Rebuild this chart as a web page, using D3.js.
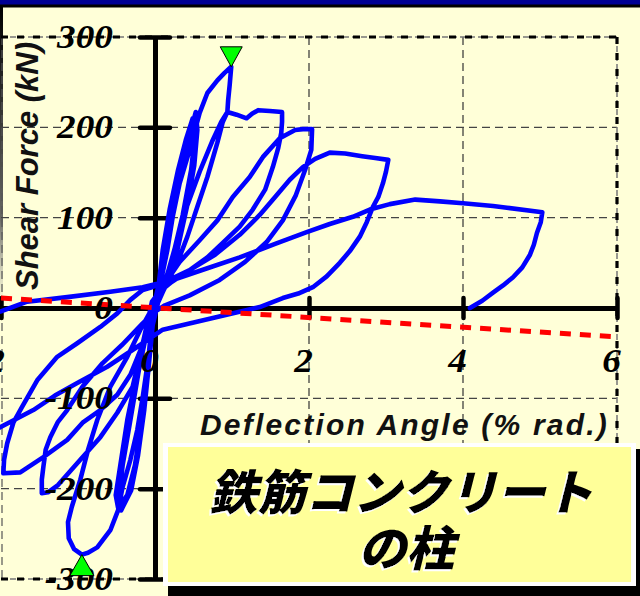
<!DOCTYPE html>
<html>
<head>
<meta charset="utf-8">
<script src="https://cdn.jsdelivr.net/npm/d3@7"></script>
<style>
  html, body { margin: 0; padding: 0; background: #ffffd8; }
  svg { display: block; }
</style>
</head>
<body>
<svg id="chart" width="640" height="596"></svg>
<script>
// Axis ticks and labels
const angleTicks = [-2, 0, 2, 4, 6];
const angleTickLabels = ["-2", "0", "2", "4", "6"];
const shearTicks = [-300, -200, -100, 0, 100, 200, 300];
const shearTickLabels = ["-300", "-200", "-100", "0", "100", "200", "300"];

// Hysteresis record, one array per loading cycle: [drift angle (% rad.), shear force (kN)]
const cycle05a = [[0,0],[0.04,20],[0.10,64],[0.19,109],[0.30,153],[0.40,186],[0.49,210],[0.52,192],[0.47,153],[0.36,103],[0.22,53],[0.09,20],[0.01,2],[-0.05,-24],[-0.10,-69],[-0.17,-124],[-0.26,-174],[-0.36,-207],[-0.48,-221],[-0.51,-207],[-0.45,-174],[-0.36,-124],[-0.23,-69],[-0.12,-24],[-0.03,-4]];
const cycle05b = [[0.06,31],[0.16,75],[0.26,120],[0.36,158],[0.45,192],[0.53,217],[0.55,197],[0.51,158],[0.42,114],[0.29,64],[0.14,25],[0.04,6],[-0.03,-19],[-0.08,-63],[-0.14,-113],[-0.22,-163],[-0.31,-202],[-0.44,-224],[-0.47,-210],[-0.42,-174],[-0.32,-124],[-0.21,-69],[-0.10,-24],[-0.01,-2]];
const cycle10 = [[0.01,3],[0.08,31],[0.16,64],[0.23,101],[0.32,138],[0.45,175],[0.58,216],[0.68,238],[0.81,252],[0.90,260],[0.99,267],[0.97,247],[0.95,230],[0.94,217],[0.88,206],[0.81,183],[0.68,145],[0.55,112],[0.42,79],[0.29,50],[0.16,28],[0.05,9],[-0.03,-13],[-0.09,-58],[-0.16,-99],[-0.23,-135],[-0.32,-168],[-0.42,-198],[-0.48,-224],[-0.58,-246],[-0.75,-265],[-0.87,-271],[-0.95,-273],[-1.05,-267],[-1.12,-255],[-1.13,-237],[-1.08,-220],[-0.97,-190],[-0.87,-157],[-0.75,-124],[-0.58,-87],[-0.36,-54],[-0.19,-24],[-0.06,-4]];
const cycle16 = [[0.04,9],[0.14,31],[0.25,64],[0.40,109],[0.58,151],[0.74,184],[0.86,206],[0.94,217],[1.06,214],[1.19,210],[1.26,215],[1.34,219],[1.49,218],[1.65,217],[1.65,206],[1.64,194],[1.60,177],[1.53,156],[1.43,131],[1.27,109],[1.10,90],[0.88,72],[0.68,56],[0.45,42],[0.22,29],[0.06,18],[-0.04,7],[-0.09,-13],[-0.18,-47],[-0.29,-87],[-0.49,-116],[-0.71,-143],[-0.97,-168],[-1.26,-196],[-1.39,-204],[-1.47,-205],[-1.47,-190],[-1.45,-176],[-1.42,-157],[-1.36,-143],[-1.26,-126],[-1.14,-113],[-0.94,-87],[-0.68,-61],[-0.43,-41],[-0.16,-17],[-0.04,-7]];
const cycle20 = [[0.04,11],[0.16,31],[0.32,51],[0.58,75],[0.81,97],[1.01,123],[1.23,145],[1.40,167],[1.62,188],[1.82,197],[1.92,198],[2.04,198],[2.03,175],[1.95,153],[1.83,125],[1.66,97],[1.45,73],[1.17,51],[0.84,31],[0.45,14],[0.13,3],[0,-4],[-0.09,-19],[-0.19,-47],[-0.32,-74],[-0.49,-96],[-0.71,-113],[-0.94,-127],[-1.14,-146],[-1.45,-165],[-1.75,-182],[-1.97,-183],[-1.96,-168],[-1.92,-150],[-1.84,-127],[-1.73,-110],[-1.53,-80],[-1.27,-54],[-1.01,-39],[-0.71,-21],[-0.49,-6],[-0.32,9],[-0.16,20],[-0.04,23]];
const cycle30 = [[0.13,29],[0.45,42],[0.78,59],[1.10,81],[1.36,103],[1.56,123],[1.75,142],[1.92,156],[2.08,165],[2.27,172],[2.47,171],[2.69,168],[2.86,166],[3.03,164],[3.00,151],[2.96,138],[2.90,123],[2.83,112],[2.75,95],[2.66,79],[2.53,63],[2.40,50],[2.23,35],[2.05,23],[1.86,16],[1.66,11],[1.36,1],[0.71,-12],[0.10,-24],[-0.16,-39],[-0.39,-52],[-0.62,-65],[-1.01,-83],[-1.30,-97],[-1.58,-113],[-2.01,-132],[-2.34,-146]];
const cycle50 = [[-2.34,-11],[-2.01,-4],[-1.66,7],[-1.14,12],[-0.58,18],[-0.16,23],[0.23,31],[0.68,44],[1.10,56],[1.56,71],[1.97,84],[2.27,93],[2.57,101],[2.79,109],[3.05,115],[3.38,120],[3.70,118],[4.00,116],[4.39,113],[4.57,111],[5.03,106],[5.01,95],[4.96,83],[4.92,70],[4.87,59],[4.77,45],[4.65,34],[4.52,25],[4.39,17],[4.25,8],[4.09,0]];

// Maximum strength in each direction
const peakPositive = [0.99, 267];
const peakNegative = [-0.95, -273];

// P-delta effect line
const pDeltaLine = [[-2, 11], [6, -32]];

const svg = d3.select("#chart");
const W = 640, H = 596;

const x = d3.scaleLinear().domain([-2, 6]).range([1, 617]);
const y = d3.scaleLinear().domain([-300, 300]).range([579, 37]);

const defs = svg.append("defs");

// White drop shadow behind the caption lettering
const shadow = defs.append("filter").attr("id", "capShadow")
  .attr("x", "-10%").attr("y", "-20%").attr("width", "120%").attr("height", "140%");
shadow.append("feOffset").attr("in", "SourceAlpha").attr("dx", -2).attr("dy", 2).attr("result", "off");
shadow.append("feFlood").attr("flood-color", "#fff").attr("result", "white");
shadow.append("feComposite").attr("in", "white").attr("in2", "off").attr("operator", "in").attr("result", "sh");
const merge = shadow.append("feMerge");
merge.append("feMergeNode").attr("in", "sh");
merge.append("feMergeNode").attr("in", "SourceGraphic");

// Background and slide frame
svg.append("rect").attr("width", W).attr("height", H).attr("fill", "#ffffd8");
svg.append("rect").attr("x", 0).attr("y", 0).attr("width", W).attr("height", 5).attr("fill", "#000094");
svg.append("rect").attr("x", 0).attr("y", 4.5).attr("width", W).attr("height", 3).attr("fill", "#000");
const lg = defs.append("linearGradient").attr("id", "edge").attr("x1", 0).attr("y1", 0).attr("x2", 0).attr("y2", 1);
lg.append("stop").attr("offset", "0%").attr("stop-color", "#000").attr("stop-opacity", 1);
lg.append("stop").attr("offset", "70%").attr("stop-color", "#555").attr("stop-opacity", 0.9);
lg.append("stop").attr("offset", "100%").attr("stop-color", "#999").attr("stop-opacity", 0);
svg.append("rect").attr("x", 0).attr("y", 7).attr("width", 3).attr("height", 300).attr("fill", "url(#edge)");

// Grid
const grid = svg.append("g");
[-200, -100, 100, 200].forEach(v => {
  grid.append("line").attr("x1", x(-2)).attr("x2", x(6)).attr("y1", y(v)).attr("y2", y(v))
    .attr("stroke", "#444").attr("stroke-width", 1.3).attr("stroke-dasharray", "8,5");
});
[2, 4].forEach(v => {
  grid.append("line").attr("x1", x(v)).attr("x2", x(v)).attr("y1", y(300)).attr("y2", y(-300))
    .attr("stroke", "#333").attr("stroke-width", 1.2).attr("stroke-dasharray", "8,5");
});
grid.append("line").attr("x1", x(-2) + 1).attr("x2", x(-2) + 1).attr("y1", y(300)).attr("y2", y(-300))
  .attr("stroke", "#555").attr("stroke-width", 1.2).attr("stroke-dasharray", "8,5");

// Heavy dashed outer border (top, bottom, right)
function border(x1, y1, x2, y2) {
  grid.append("line").attr("x1", x1).attr("y1", y1).attr("x2", x2).attr("y2", y2)
    .attr("stroke", "#777").attr("stroke-width", 1.5).attr("stroke-dasharray", "6,3");
  grid.append("line").attr("x1", x1).attr("y1", y1).attr("x2", x2).attr("y2", y2)
    .attr("stroke", "#000").attr("stroke-width", 3.2).attr("stroke-dasharray", "7,9");
}
border(x(-2), y(300), x(6), y(300));
border(x(-2), y(-300), x(6), y(-300));
border(x(6), y(300), x(6), y(-300));

// Axes through the origin
const yAxis = svg.append("g").attr("transform", `translate(${x(0)},0)`)
  .call(d3.axisLeft(y).tickValues(shearTicks).tickSizeInner(15).tickSizeOuter(0).tickFormat(""));
yAxis.select(".domain").attr("stroke", "#000").attr("stroke-width", 5);
yAxis.selectAll(".tick line").attr("x1", 15).attr("stroke", "#000").attr("stroke-width", 4.5).attr("stroke-linecap", "round");

const xAxis = svg.append("g").attr("transform", `translate(0,${y(0)})`)
  .call(d3.axisBottom(x).tickValues(angleTicks).tickSizeInner(10).tickSizeOuter(0).tickFormat(""));
xAxis.select(".domain").attr("stroke", "#000").attr("stroke-width", 5);
xAxis.selectAll(".tick line").attr("y1", -10).attr("stroke", "#000").attr("stroke-width", 4.5).attr("stroke-linecap", "round");

// Hysteresis curve
const record = [].concat(cycle05a, cycle05b, cycle10, cycle16, cycle20, cycle30, cycle50);
const line = d3.line().x(d => x(d[0])).y(d => y(d[1]));
svg.append("path").datum(record).attr("d", line)
  .attr("fill", "none").attr("stroke", "#0000ff").attr("stroke-width", 4.6)
  .attr("stroke-linejoin", "round").attr("stroke-linecap", "round");

// P-delta line
svg.append("path").datum(pDeltaLine).attr("d", line)
  .attr("fill", "none").attr("stroke", "#ff0000").attr("stroke-width", 5).attr("stroke-dasharray", "11,9");

// Tick labels
const tickFont = "'Liberation Serif', 'Times New Roman', serif";
shearTicks.forEach((v, i) => {
  svg.append("text").text(shearTickLabels[i])
    .attr("transform", `translate(113,${y(v) + 11}) scale(1.13,1)`)
    .attr("text-anchor", "end").attr("font-family", tickFont)
    .attr("font-weight", "bold").attr("font-style", "italic").attr("font-size", 33).attr("fill", "#000");
});
angleTicks.forEach((v, i) => {
  svg.append("text").text(angleTickLabels[i])
    .attr("transform", `translate(${x(v) + 4},372) scale(1.13,1)`)
    .attr("text-anchor", "end").attr("font-family", tickFont)
    .attr("font-weight", "bold").attr("font-style", "italic").attr("font-size", 33).attr("fill", "#000");
});

// Peak markers
svg.append("path").attr("d", "M-11,-20L11,-20L0,0Z")
  .attr("transform", `translate(${x(peakPositive[0])},${y(peakPositive[1])})`)
  .attr("fill", "#00ff00").attr("stroke", "#000").attr("stroke-width", 1);
svg.append("path").attr("d", "M-12,21L12,21L0,0Z")
  .attr("transform", `translate(${x(peakNegative[0])},${y(peakNegative[1])})`)
  .attr("fill", "#00ff00").attr("stroke", "#000").attr("stroke-width", 1);

// Axis titles
const titleFont = "'Liberation Sans', Arial, sans-serif";
svg.append("text").text("Shear Force (kN)")
  .attr("transform", "translate(38,166) rotate(-90)")
  .attr("text-anchor", "middle").attr("font-family", titleFont)
  .attr("font-weight", "bold").attr("font-style", "italic").attr("font-size", 31)
  .attr("letter-spacing", 0).attr("fill", "#111");
svg.append("text").text("Deflection Angle (% rad.)")
  .attr("x", 200).attr("y", 435)
  .attr("font-family", titleFont).attr("font-weight", "bold").attr("font-style", "italic")
  .attr("font-size", 30).attr("letter-spacing", 2.2).attr("fill", "#111");

// Caption box
svg.append("rect").attr("x", 168).attr("y", 449).attr("width", 480).attr("height", 160).attr("fill", "#000");
svg.append("rect").attr("x", 163).attr("y", 443).attr("width", 473).attr("height", 143).attr("fill", "#fff");
svg.append("rect").attr("x", 168).attr("y", 447).attr("width", 463).attr("height", 135).attr("fill", "#ffff99");

// Caption: Latin font listed first keeps the line box compact; kana/kanji come from Noto CJK
const capFont = "'Liberation Sans', 'Noto Sans CJK JP', sans-serif";
const captionLines = [["鉄筋コンクリート", 401, 510], ["の柱", 406, 566]];
const caption = svg.append("text")
  .attr("text-anchor", "middle").attr("font-family", capFont).attr("font-weight", 900)
  .attr("font-style", "italic").attr("font-size", 48).attr("fill", "#000")
  .attr("filter", "url(#capShadow)");
captionLines.forEach(([t, cx, by]) => {
  caption.append("tspan").attr("x", cx).attr("y", by).text(t);
});
</script>
</body>
</html>
